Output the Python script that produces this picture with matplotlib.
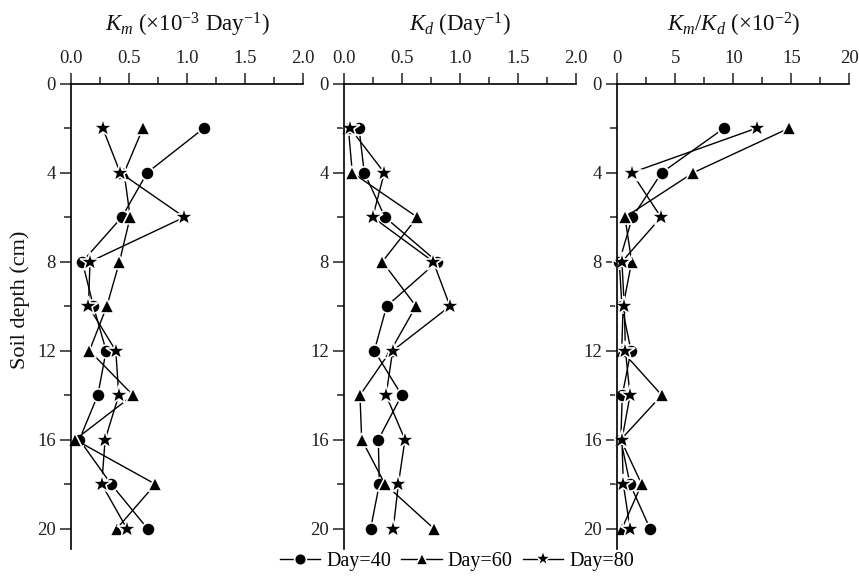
import matplotlib
matplotlib.use("Agg")
import matplotlib.pyplot as plt
import numpy as np
from matplotlib.ticker import MultipleLocator
from matplotlib.lines import Line2D

plt.rcParams['font.family'] = ['Liberation Serif', 'DejaVu Serif']
plt.rcParams['mathtext.fontset'] = 'custom'
plt.rcParams['mathtext.rm'] = 'Liberation Serif'
plt.rcParams['mathtext.it'] = 'Liberation Serif:italic'

depth = [2, 4, 6, 8, 10, 12, 14, 16, 18, 20]

km_d40 = [1.145, 0.657, 0.438, 0.098, 0.193, 0.303, 0.231, 0.072, 0.346, 0.660]
km_d60 = [0.620, 0.458, 0.510, 0.418, 0.309, 0.159, 0.534, 0.035, 0.727, 0.395]
km_d80 = [0.274, 0.424, 0.977, 0.164, 0.150, 0.386, 0.412, 0.294, 0.265, 0.482]

kd_d40 = [0.127, 0.172, 0.351, 0.800, 0.365, 0.259, 0.495, 0.293, 0.302, 0.227]
kd_d60 = [0.035, 0.069, 0.629, 0.328, 0.618, 0.400, 0.135, 0.150, 0.351, 0.773]
kd_d80 = [0.050, 0.345, 0.245, 0.767, 0.911, 0.417, 0.360, 0.523, 0.466, 0.422]

ratio_d40 = [9.2, 3.83, 1.30, 0.17, 0.40, 1.18, 0.43, 0.30, 1.10, 2.82]
ratio_d60 = [14.8, 6.55, 0.66, 1.24, 0.50, 0.38, 3.83, 0.30, 2.10, 0.40]
ratio_d80 = [12.0, 1.24, 3.77, 0.40, 0.60, 0.70, 1.10, 0.40, 0.52, 1.10]

series_labels = ['Day=40', 'Day=60', 'Day=80']
markers = ['o', '^', '*']
msizes = [9.5, 10.5, 15]
leg_msizes = [8.5, 9, 12.5]

titles = [r'$K_m$ ($\times$10$^{-3}$ Day$^{-1}$)',
          r'$K_d$ (Day$^{-1}$)',
          r'$K_m$/$K_d$ ($\times$10$^{-2}$)']
xlims = [(0, 2.0), (0, 2.0), (0, 20)]
xmajor = [0.5, 0.5, 5]
xminor = [0.25, 0.25, 2.5]
xfmt = ['%.1f', '%.1f', '%d']

data = [(km_d40, km_d60, km_d80), (kd_d40, kd_d60, kd_d80), (ratio_d40, ratio_d60, ratio_d80)]

W, H = 859, 583
fig = plt.figure(figsize=(W / 100, H / 100), dpi=100)
lefts = [71, 344.3, 617.3]
width_px = 232
top_px, bot_px = 83.7, 548.7

for i in range(3):
    ax = fig.add_axes([lefts[i] / W, 1 - bot_px / H, width_px / W, (bot_px - top_px) / H])
    for j in range(3):
        ax.plot(data[i][j], depth, color='black', lw=1.0, marker=markers[j],
                markersize=msizes[j], markerfacecolor='black',
                markeredgecolor='white', markeredgewidth=1.2,
                label=series_labels[j], clip_on=False)
    ax.set_xlim(*xlims[i])
    ax.set_ylim(20.9, 0)
    ax.xaxis.set_ticks_position('top')
    ax.xaxis.set_label_position('top')
    ax.spines['right'].set_visible(False)
    ax.spines['bottom'].set_visible(False)
    ax.spines['top'].set_linewidth(1.2)
    ax.spines['left'].set_linewidth(1.2)
    ax.xaxis.set_major_locator(MultipleLocator(xmajor[i]))
    ax.xaxis.set_minor_locator(MultipleLocator(xminor[i]))
    ax.xaxis.set_major_formatter(matplotlib.ticker.FormatStrFormatter(xfmt[i]))
    ax.yaxis.set_major_locator(MultipleLocator(4))
    ax.yaxis.set_minor_locator(MultipleLocator(2))
    ax.tick_params(axis='both', which='major', direction='out', length=8, width=1.2,
                   labelsize=13.5, color='#333333', labelcolor='#222222')
    ax.tick_params(axis='both', which='minor', direction='out', length=5, width=1.2,
                   color='#333333')
    ax.tick_params(axis='x', which='major', pad=4)
    ax.tick_params(axis='y', which='major', pad=3)
    ax.set_title(titles[i], fontsize=16.5, pad=13, color='#111111')
    ax.patch.set_visible(False)

fig.text(20 / W, 1 - 300 / H, 'Soil depth (cm)', rotation=90, fontsize=16,
         ha='center', va='center', color='#111111')

proxies = [Line2D([], [], color='black', lw=1.0, marker=markers[j],
                  markersize=leg_msizes[j], markerfacecolor='black',
                  markeredgecolor='white', markeredgewidth=1.2)
           for j in range(3)]
fig.legend(handles=proxies, labels=series_labels, loc='center',
           bbox_to_anchor=(0.532, 1 - 561 / H), ncol=3, frameon=False,
           fontsize=14.5, handlelength=2.0, handletextpad=0.3, columnspacing=0.5)

fig.savefig('out.png', dpi=100)
